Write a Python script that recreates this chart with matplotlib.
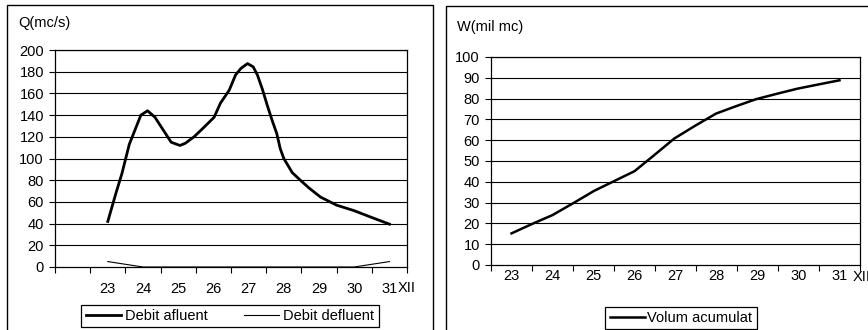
import matplotlib.pyplot as plt
from matplotlib.patches import Rectangle

plt.rcParams['font.family'] = ['Liberation Sans', 'DejaVu Sans']

# debit afluent (zile din decembrie, mc/s)
t_af = [23.0, 23.24, 23.4, 23.61, 23.94, 24.13, 24.34, 24.6, 24.8, 25.05, 25.2,
        25.45, 25.74, 26.02, 26.2, 26.45, 26.63, 26.78, 26.97, 27.13, 27.25,
        27.39, 27.53, 27.67, 27.8, 27.9, 28.0, 28.24, 28.47, 28.71, 29.04,
        29.5, 29.99, 30.47, 31.0]
q_af = [42, 69, 86, 113, 140, 144, 138, 125, 115, 112, 114,
        120, 129, 138, 151, 163, 177, 183, 187.5, 184.5, 177,
        164, 149, 135, 123, 109, 100, 87, 80, 73, 64.5,
        57, 52, 46, 39.5]

# debit defluent
t_def = [23.0, 24.0, 25.0, 26.0, 27.0, 28.0, 29.0, 30.0, 31.0]
q_def = [5, 0, 0, 0, 0, 0, 0, 0, 5]

# volum acumulat (mil mc)
t_vol = [23.0, 23.51, 24.0, 24.53, 25.02, 25.5, 26.0, 26.48, 26.97, 27.5,
         27.99, 28.47, 28.96, 29.49, 29.98, 30.46, 31.0]
w_vol = [15.2, 19.8, 24, 30, 35.7, 40.3, 45.1, 52.8, 60.8, 67.2,
         72.8, 76.3, 79.7, 82.4, 84.8, 86.7, 88.8]

zile = [23, 24, 25, 26, 27, 28, 29, 30, 31]

W, H = 868, 330
FS = 10.5
fig = plt.figure(figsize=(W / 100, H / 100), dpi=100)


def box(x0, y0, x1, y1):
    fig.patches.append(Rectangle((x0 / W, 1 - y1 / H), (x1 - x0) / W, (y1 - y0) / H,
                                 transform=fig.transFigure, fill=False,
                                 edgecolor='black', lw=1.0))


box(7, 5, 433, 345)
box(446, 6, 880, 345)


def style(ax, yticks, lim_x, pad_x):
    ax.set_ylim(yticks[0], yticks[-1])
    ax.set_yticks(yticks)
    ax.set_xlim(*lim_x)
    bounds = [lim_x[0] + i for i in range(int(lim_x[1] - lim_x[0]) + 1)]
    ax.set_xticks(bounds)
    ax.set_xticklabels([])
    ax.set_xticks(zile, minor=True)
    ax.set_xticklabels([str(z) for z in zile], minor=True)
    ax.tick_params(axis='x', which='major', direction='out', length=4, width=0.8)
    ax.tick_params(axis='x', which='minor', length=0, pad=pad_x, labelsize=FS)
    ax.tick_params(axis='y', direction='out', length=4, width=0.8, pad=4, labelsize=FS)
    for y in yticks[1:]:
        ax.axhline(y, color='black', lw=0.8, zorder=1)
    for s in ax.spines.values():
        s.set_linewidth(0.9)
        s.set_color('black')


# grafic stanga
ax1 = fig.add_axes([55 / W, 1 - 267 / H, 352 / W, 217 / H])
l1, = ax1.plot(t_af, q_af, color='black', lw=2.0, label='Debit afluent', zorder=3)
l2, = ax1.plot(t_def, q_def, color='black', lw=0.8, label='Debit defluent', zorder=3)
style(ax1, list(range(0, 201, 20)), (21.5, 31.5), 10.5)
fig.text(18 / W, 1 - 23 / H, 'Q(mc/s)', fontsize=FS, va='center', ha='left')
fig.text(398 / W, 1 - 288 / H, 'XII', fontsize=FS, va='center', ha='left')
fig.legend(handles=[l1, l2], loc='center', bbox_to_anchor=(230 / W, 1 - 316 / H),
           ncol=2, fontsize=FS, frameon=True, fancybox=False, edgecolor='black',
           framealpha=1, handlelength=2.4, columnspacing=2.5, borderpad=0.3,
           handletextpad=0.3).get_frame().set_linewidth(0.9)

# grafic dreapta
ax2 = fig.add_axes([491 / W, 1 - 265 / H, 369 / W, 208 / H])
l3, = ax2.plot(t_vol, w_vol, color='black', lw=1.8, label='Volum acumulat', zorder=3)
style(ax2, list(range(0, 101, 10)), (22.5, 31.5), 3)
fig.text(457 / W, 1 - 27 / H, 'W(mil mc)', fontsize=FS, va='center', ha='left')
fig.text(853 / W, 1 - 277 / H, 'XII', fontsize=FS, va='center', ha='left')
fig.legend(handles=[l3], loc='center', bbox_to_anchor=(681 / W, 1 - 318 / H),
           fontsize=FS, frameon=True, fancybox=False, edgecolor='black',
           framealpha=1, handlelength=2.4, borderpad=0.3,
           handletextpad=0.2).get_frame().set_linewidth(0.9)

fig.savefig('out.png', dpi=100)
